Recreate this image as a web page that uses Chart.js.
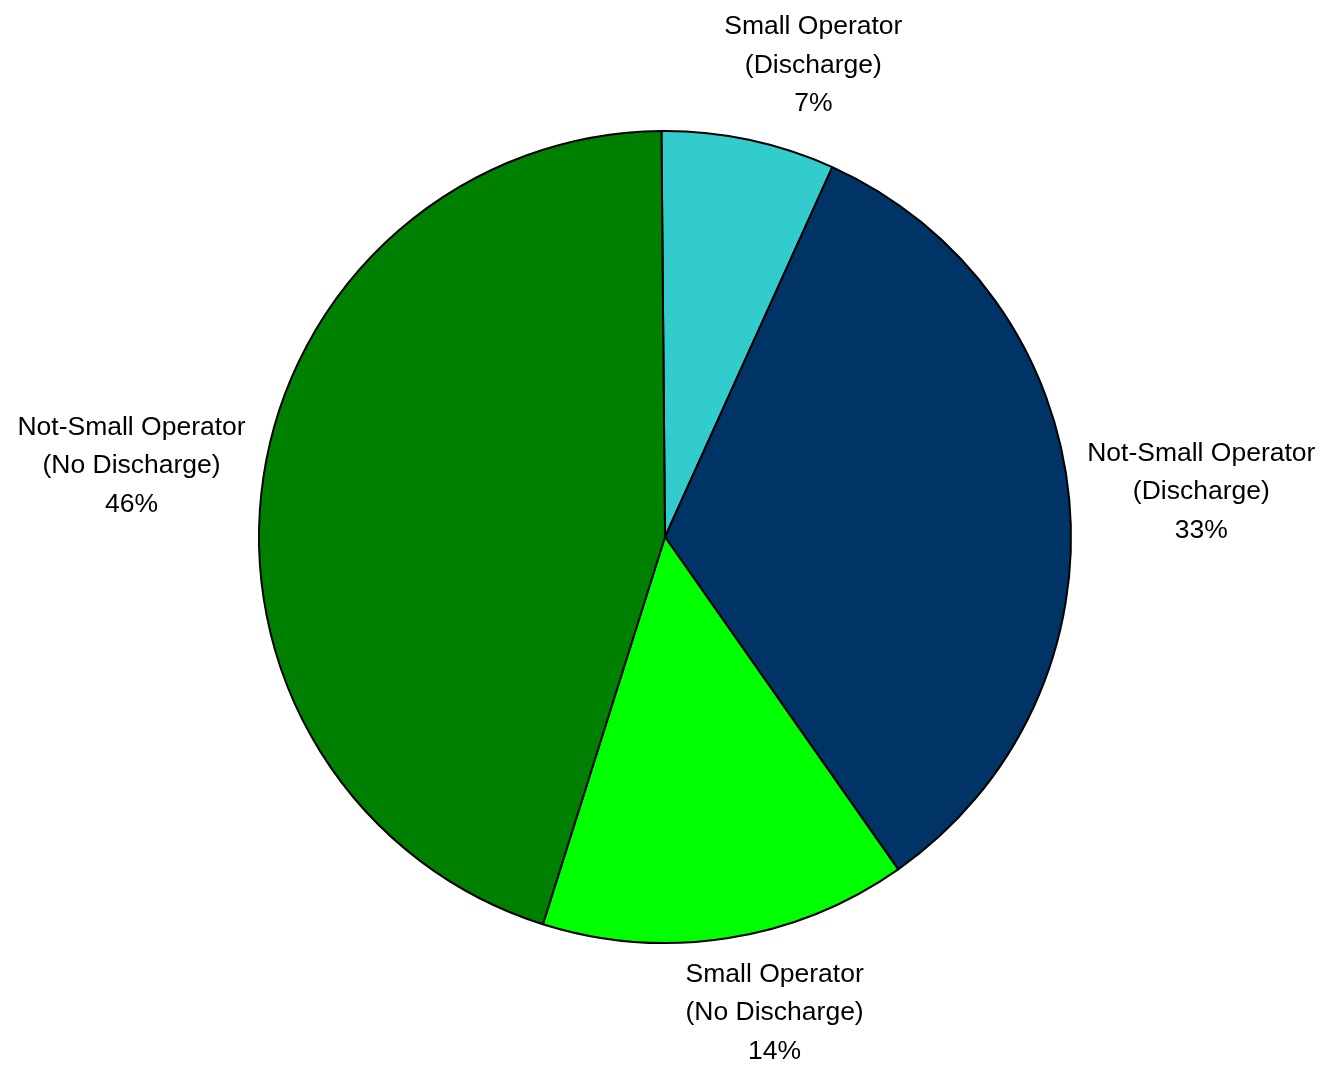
<!DOCTYPE html>
<html>
<head>
<meta charset="utf-8">
<script src="https://cdn.jsdelivr.net/npm/chart.js@4"></script>
<style>
  html, body { margin: 0; padding: 0; background: #ffffff; }
  canvas { display: block; }
</style>
</head>
<body>
<canvas id="pieChart" width="1323" height="1066"></canvas>
<script>
// Slices, clockwise from the top
const categories = [
  ['Small Operator', '(Discharge)'],
  ['Not-Small Operator', '(Discharge)'],
  ['Small Operator', '(No Discharge)'],
  ['Not-Small Operator', '(No Discharge)']
];
const shares = [6.9, 33.5, 14.6, 45.0];
const shareLabels = ['7%', '33%', '14%', '46%'];
const sliceColors = ['#33CCCC', '#003366', '#00FF00', '#008000'];

const labelFont = '26.5px "Liberation Sans", Arial, sans-serif';
const lineHeight = 38.5;

// Draw the category + percent label outside each slice
const outsideLabels = {
  id: 'outsideLabels',
  afterDatasetsDraw(chart) {
    const ctx = chart.ctx;
    const meta = chart.getDatasetMeta(0);
    ctx.save();
    ctx.font = labelFont;
    ctx.fillStyle = '#000000';
    ctx.textAlign = 'center';
    ctx.textBaseline = 'middle';
    meta.data.forEach((arc, i) => {
      const p = arc.getProps(['x', 'y', 'startAngle', 'endAngle', 'outerRadius'], true);
      const mid = (p.startAngle + p.endAngle) / 2;
      const dx = Math.cos(mid);
      const dy = Math.sin(mid);
      const lines = categories[i].concat([shareLabels[i]]);
      const w = Math.max(...lines.map(t => ctx.measureText(t).width));
      const h = lines.length * lineHeight;
      const r = p.outerRadius + 18;
      const fx = Math.max(-1, Math.min(1, dx * 3.3));
      const cx = p.x + r * dx + fx * w / 2;
      const cy = p.y + r * dy + dy * h / 2;
      lines.forEach((t, j) => {
        ctx.fillText(t, cx, cy - h / 2 + lineHeight * (j + 0.5));
      });
    });
    ctx.restore();
  }
};

const ctx = document.getElementById('pieChart').getContext('2d');
new Chart(ctx, {
  type: 'pie',
  data: {
    labels: categories.map(c => c.join(' ')),
    datasets: [{
      data: shares,
      backgroundColor: sliceColors,
      borderColor: '#000000',
      borderWidth: 2
    }]
  },
  options: {
    responsive: false,
    devicePixelRatio: 1,
    animation: false,
    rotation: -0.5,
    radius: 406,
    layout: {
      padding: { left: 258, right: 251, top: 130, bottom: 122 }
    },
    plugins: {
      legend: { display: false },
      tooltip: { enabled: false }
    }
  },
  plugins: [outsideLabels]
});
</script>
</body>
</html>
